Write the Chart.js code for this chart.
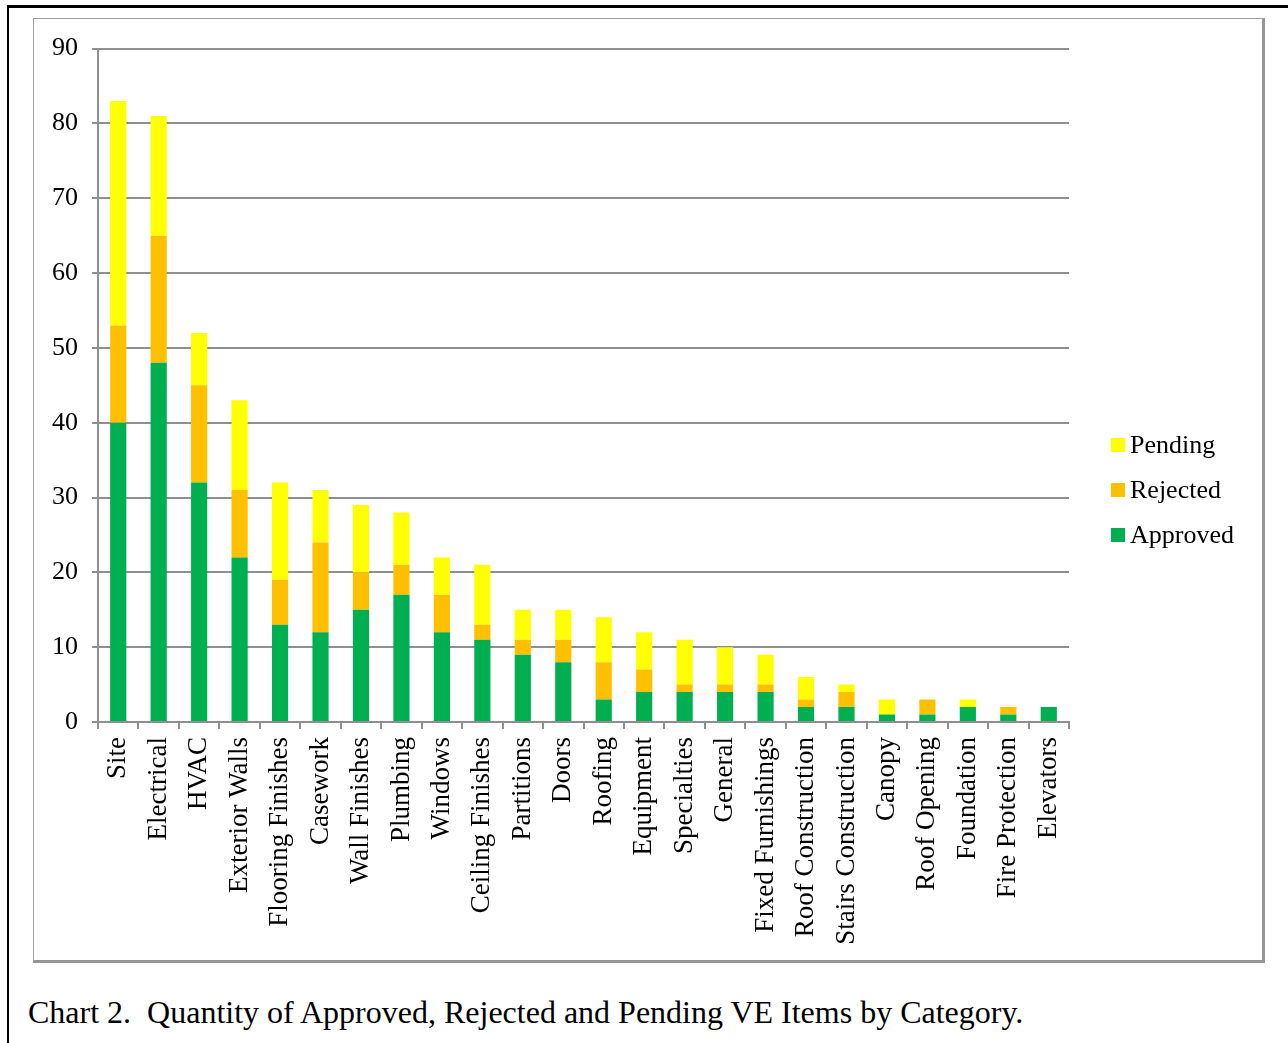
<!DOCTYPE html>
<html lang="en">
<head>
    <meta charset="UTF-8">
    <title>Quantity of VE Items by Category</title>
    <script src="https://cdn.jsdelivr.net/npm/chart.js"></script>
    <style>
        body {
            margin: 0;
            background-color: #fff;
            font-family: "Liberation Serif", "DejaVu Serif", serif;
        }
        .page {
            position: relative;
            width: 1288px;
            height: 1043px;
            overflow: hidden;
        }
        .outer {
            position: absolute;
            left: 7px;
            top: 5px;
            width: 1290px;
            height: 1050px;
            border-top: 3px solid #000;
            border-left: 2px solid #000;
        }
        .frame {
            position: absolute;
            left: 33px;
            top: 18px;
            width: 1228px;
            height: 941px;
            border-left: 1px solid #a0a0a0;
            border-top: 1px solid #a0a0a0;
            border-right: 3px solid #979797;
            border-bottom: 3px solid #979797;
        }
        .chart-box {
            position: absolute;
            left: 35px;
            top: 19px;
            width: 1228px;
            height: 941px;
        }
        .caption {
            position: absolute;
            left: 28px;
            top: 996px;
            font-size: 32px;
            line-height: 1;
            white-space: pre;
            color: #000;
        }
    </style>
</head>
<body>
<div class="page">
    <div class="outer"></div>
    <div class="frame"></div>
    <div class="chart-box">
        <canvas id="veChart"></canvas>
    </div>
    <div class="caption">Chart 2.  Quantity of Approved, Rejected and Pending VE Items by Category.</div>
</div>

<script>
    // Categories and counts per status
    const categories = ['Site', 'Electrical', 'HVAC', 'Exterior Walls', 'Flooring Finishes', 'Casework',
        'Wall Finishes', 'Plumbing', 'Windows', 'Ceiling Finishes', 'Partitions', 'Doors', 'Roofing',
        'Equipment', 'Specialties', 'General', 'Fixed Furnishings', 'Roof Construction',
        'Stairs Construction', 'Canopy', 'Roof Opening', 'Foundation', 'Fire Protection', 'Elevators'];
    const approved = [40, 48, 32, 22, 13, 12, 15, 17, 12, 11, 9, 8, 3, 4, 4, 4, 4, 2, 2, 1, 1, 2, 1, 2];
    const rejected = [13, 17, 13, 9, 6, 12, 5, 4, 5, 2, 2, 3, 5, 3, 1, 1, 1, 1, 2, 0, 2, 0, 1, 0];
    const pending  = [30, 16, 7, 12, 13, 7, 9, 7, 5, 8, 4, 4, 6, 5, 6, 5, 4, 3, 1, 2, 0, 1, 0, 0];
    const yTicks = [0, 10, 20, 30, 40, 50, 60, 70, 80, 90];

    const serif = '"Liberation Serif", "DejaVu Serif", serif';
    const gridColor = '#8f8f8f';

    // legend drawn at the right, Pending on top
    const sideLegend = {
        id: 'sideLegend',
        afterDraw(chart) {
            const ctx = chart.ctx;
            const sets = chart.data.datasets.slice().reverse();
            const x = chart.chartArea.right + 42;
            const mid = 471;
            ctx.save();
            ctx.font = '26px ' + serif;
            ctx.textBaseline = 'middle';
            ctx.textAlign = 'left';
            sets.forEach((ds, i) => {
                const y = mid + (i - 1) * 45;
                ctx.fillStyle = ds.backgroundColor;
                ctx.fillRect(x, y - 7, 14, 14);
                ctx.fillStyle = '#000';
                ctx.fillText(ds.label, x + 19, y + 1);
            });
            ctx.restore();
        }
    };

    new Chart(document.getElementById('veChart'), {
        type: 'bar',
        data: {
            labels: categories,
            datasets: [
                { label: 'Approved', data: approved, backgroundColor: '#00b050' },
                { label: 'Rejected', data: rejected, backgroundColor: '#ffc000' },
                { label: 'Pending', data: pending, backgroundColor: '#ffff00' }
            ]
        },
        options: {
            responsive: true,
            maintainAspectRatio: false,
            animation: false,
            devicePixelRatio: 1,
            layout: {
                padding: { top: 23, right: 194, bottom: 0, left: 0 }
            },
            datasets: {
                bar: { categoryPercentage: 1, barPercentage: 0.4 }
            },
            scales: {
                x: {
                    stacked: true,
                    afterFit(scale) { scale.height = 238; },
                    grid: {
                        offset: true,
                        drawOnChartArea: false,
                        drawTicks: true,
                        tickLength: 7,
                        color: gridColor,
                        lineWidth: 2
                    },
                    border: { color: gridColor, width: 2 },
                    ticks: {
                        minRotation: 90,
                        maxRotation: 90,
                        autoSkip: false,
                        padding: 8,
                        color: '#000',
                        font: { family: serif, size: 27 }
                    }
                },
                y: {
                    stacked: true,
                    min: 0,
                    max: 90,
                    afterFit(scale) { scale.width = 63; },
                    afterBuildTicks(scale) {
                        scale.ticks = yTicks.map(v => ({ value: v }));
                    },
                    grid: {
                        color: gridColor,
                        lineWidth: 2,
                        tickLength: 6
                    },
                    border: { color: gridColor, width: 2 },
                    ticks: {
                        padding: 14,
                        color: '#000',
                        font: { family: serif, size: 26 }
                    }
                }
            },
            plugins: {
                legend: { display: false },
                tooltip: { enabled: false }
            }
        },
        plugins: [sideLegend]
    });
</script>
</body>
</html>
